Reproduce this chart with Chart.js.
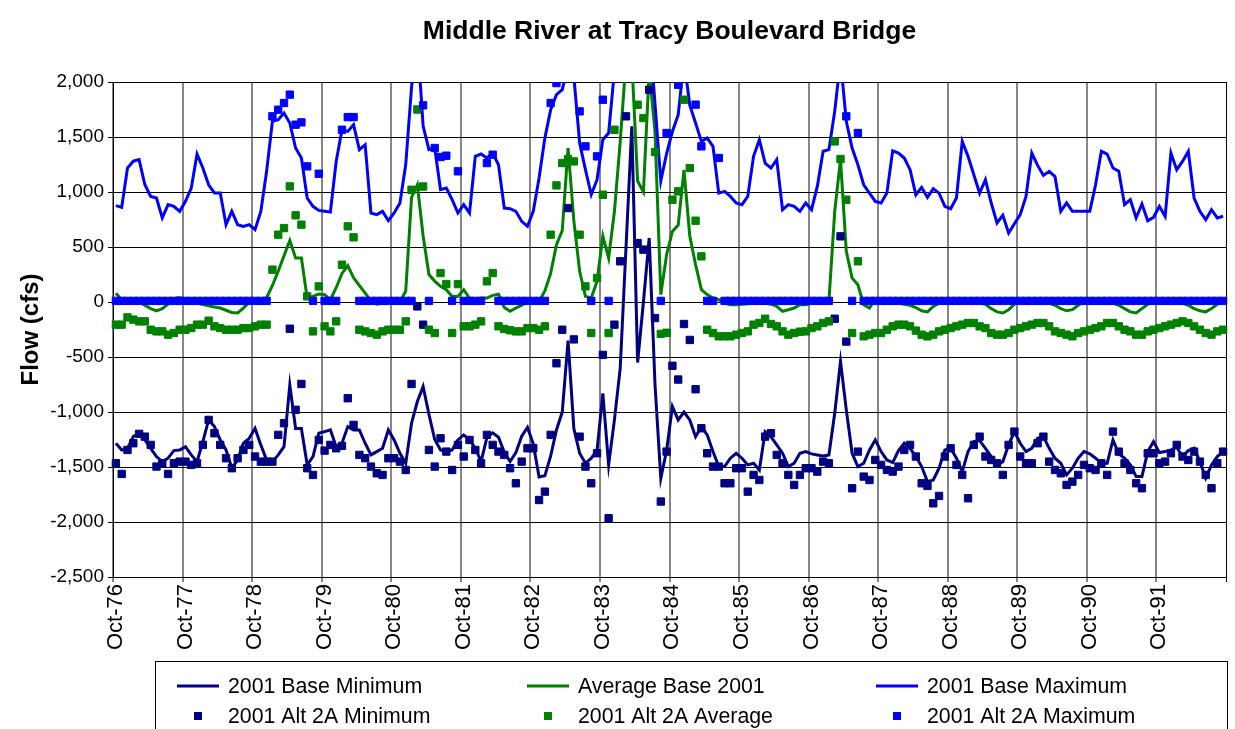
<!DOCTYPE html>
<html><head><meta charset="utf-8">
<script src="https://cdn.jsdelivr.net/npm/chart.js@4.4.1/dist/chart.umd.min.js"></script>
<style>html,body{margin:0;padding:0;background:#fff;overflow:hidden}canvas{display:block}</style>
</head><body>
<canvas id="c" width="1235" height="729"></canvas>
<script>
const TITLE = 'Middle River at Tracy Boulevard Bridge';
const Y_TITLE = 'Flow (cfs)';
const MONTHS = ['Oct','Nov','Dec','Jan','Feb','Mar','Apr','May','Jun','Jul','Aug','Sep'];
const WATER_YEARS = [76,77,78,79,80,81,82,83,84,85,86,87,88,89,90,91];
const TICK_LABELS = ['Oct-76','Oct-77','Oct-78','Oct-79','Oct-80','Oct-81','Oct-82','Oct-83','Oct-84','Oct-85','Oct-86','Oct-87','Oct-88','Oct-89','Oct-90','Oct-91'];
const Y_MIN = -2500, Y_MAX = 2000, Y_STEP = 500;

const BASE_MIN = [
-1284,-1345,-1330,-1224,-1193,-1254,-1330,-1405,-1451,-1420,-1351,-1345,
-1315,-1390,-1451,-1269,-1072,-1133,-1254,-1345,-1511,-1436,-1284,-1239,
-1148,-1299,-1436,-1451,-1390,-1315,-754,-1150,-1150,-1480,-1405,-1193,
-1178,-1163,-1315,-1284,-1133,-1163,-1163,-1284,-1390,-1360,-1330,-1163,
-1254,-1375,-1466,-1102,-905,-769,-1020,-1250,-1345,-1360,-1345,-1254,
-1208,-1254,-1330,-1451,-1230,-1190,-1230,-1366,-1450,-1370,-1220,-1140,
-1290,-1590,-1580,-1400,-1163,-1000,-350,-1150,-1375,-1466,-1420,-1350,
-830,-1481,-1072,-602,500,1597,-550,0,582,-750,-1602,-1350,
-951,-1072,-1000,-1072,-1224,-1133,-1208,-1360,-1496,-1496,-1420,-1375,
-1420,-1481,-1466,-1527,-1178,-1224,-1299,-1375,-1496,-1466,-1375,-1360,
-1381,-1390,-1400,-1390,-1012,-542,-981,-1375,-1496,-1466,-1345,-1254,
-1360,-1436,-1460,-1351,-1284,-1330,-1405,-1496,-1633,-1618,-1511,-1345,
-1330,-1420,-1542,-1360,-1269,-1260,-1330,-1405,-1481,-1451,-1299,-1178,
-1284,-1360,-1330,-1239,-1224,-1330,-1420,-1466,-1572,-1511,-1420,-1360,
-1381,-1420,-1466,-1466,-1254,-1381,-1420,-1481,-1587,-1587,-1360,-1269,
-1369,-1360,-1345,-1321,-1405,-1351,-1330,-1451,-1602,-1481,-1405,-1360];

const AVG_BASE = [
80,20,0,0,0,-30,-60,-80,-60,-20,30,40,
20,6,-10,-24,-35,-45,-55,-75,-95,-100,-55,0,
5,6,40,150,280,420,560,400,400,36,51,73,
67,21,130,260,330,220,150,80,10,-20,-10,20,
0,0,100,950,1066,600,250,190,142,112,51,51,
112,36,20,36,36,60,70,-50,-85,-55,-30,5,
5,5,100,260,520,650,1400,740,279,51,36,188,
600,400,824,1460,2200,2200,1100,1000,2100,1550,67,430,
642,700,1200,600,339,112,67,36,21,-9,-24,-24,
-20,-15,-10,-10,-10,-20,-40,-85,-70,-55,-24,-24,
-10,-10,-10,6,824,1294,460,218,157,-24,-55,30,
0,-10,-10,-10,-20,-30,-50,-80,-90,-40,-10,0,
0,0,0,0,0,-10,-20,-60,-90,-100,-70,-20,
0,0,0,0,0,-10,-30,-60,-80,-70,-30,0,
0,0,0,0,-10,-30,-60,-90,-100,-60,-20,0,
0,0,0,0,-10,-30,-60,-80,-90,-60,-20,0];

const BASE_MAX = [
876,860,1218,1280,1294,1066,960,945,764,885,870,824,
915,1036,1345,1218,1066,990,990,703,824,703,688,703,
657,824,1188,1642,1657,1718,1627,1400,1309,945,870,833,
825,818,1278,1566,1551,1612,1385,1430,809,794,824,739,
809,900,1250,1950,2400,1600,1385,1400,1021,1036,930,809,
885,809,1324,1345,1309,1354,1248,854,848,824,733,688,
824,1127,1490,1748,1885,1930,2150,2050,1445,1203,975,1112,
1475,1536,2100,2500,2800,2300,2100,2200,2500,1800,1100,1350,
1550,1700,2200,1790,1627,1460,1490,1415,990,1006,960,900,
885,960,1324,1475,1263,1218,1294,839,885,870,824,900,
839,1051,1370,1385,1733,2200,1642,1400,1248,1066,990,915,
900,990,1375,1354,1309,1203,975,1042,951,1030,990,870,
848,945,1460,1324,1157,990,1112,900,718,788,627,712,
794,960,1354,1242,1151,1188,1140,824,900,824,824,824,
824,1066,1370,1345,1218,1188,885,930,764,891,739,770,
870,779,1354,1203,1278,1370,945,824,748,839,764,779];

const ALT_MIN = [
-1466,-1563,-1345,-1284,-1199,-1224,-1299,-1496,-1466,-1563,-1466,-1451,
-1451,-1481,-1466,-1299,-1072,-1193,-1299,-1420,-1511,-1420,-1345,-1299,
-1405,-1451,-1451,-1451,-1208,-1102,-243,-980,-745,-1511,-1572,-1254,
-1351,-1299,-1330,-1308,-875,-1117,-1390,-1420,-1496,-1557,-1572,-1420,
-1420,-1451,-1527,-745,-40,-206,-1345,-1496,-1239,-1360,-1527,-1299,
-1405,-1254,-1345,-1466,-1208,-1299,-1360,-1390,-1511,-1648,-1451,-1330,
-1330,-1800,-1724,-1208,-557,-252,854,-340,-1224,-1496,-1648,-1375,
-481,-1966,-206,370,1688,2100,536,476,1930,-146,-1814,-1360,
-580,-705,-200,-345,-793,-1148,-1375,-1496,-1496,-1648,-1648,-1511,
-1511,-1724,-1572,-1618,-1224,-1193,-1390,-1466,-1572,-1663,-1572,-1511,
-1511,-1542,-1451,-1466,-152,597,-360,-1693,-1360,-1587,-1618,-1436,
-1481,-1527,-1542,-1496,-1345,-1299,-1405,-1648,-1672,-1830,-1763,-1405,
-1330,-1481,-1572,-1784,-1299,-1224,-1405,-1436,-1466,-1572,-1299,-1178,
-1405,-1466,-1466,-1284,-1224,-1451,-1527,-1557,-1663,-1633,-1572,-1481,
-1511,-1527,-1466,-1572,-1178,-1360,-1466,-1527,-1648,-1693,-1375,-1375,
-1466,-1451,-1375,-1299,-1405,-1436,-1360,-1451,-1572,-1693,-1466,-1360];

const ALT_AVG = [
-206,-206,-140,-160,-176,-176,-252,-267,-267,-297,-282,-252,
-252,-237,-206,-206,-170,-221,-237,-252,-252,-252,-237,-237,
-221,-206,-206,294,612,672,1051,788,703,51,-267,142,
-221,-267,-176,339,688,588,-252,-267,-282,-297,-267,-252,
-252,-252,-176,1020,1750,1050,-252,-282,263,163,-282,163,
-221,-221,-206,-176,188,263,-221,-245,-257,-267,-267,-237,
-237,-252,-221,612,1060,1263,1300,1278,612,142,-282,218,
975,-282,1566,2200,2300,2400,1793,1672,2300,1363,-290,-280,
930,1006,1839,1218,739,415,-252,-282,-312,-312,-312,-297,
-282,-267,-206,-191,-152,-200,-221,-267,-297,-282,-270,-267,
-237,-221,-191,-176,1460,1300,930,-282,370,-312,-297,-282,
-282,-252,-221,-206,-206,-221,-260,-297,-312,-297,-267,-252,
-237,-221,-206,-191,-191,-221,-237,-282,-297,-297,-282,-252,
-237,-221,-206,-191,-191,-221,-267,-282,-297,-312,-282,-267,
-252,-237,-221,-191,-191,-221,-252,-267,-297,-297,-267,-252,
-237,-221,-206,-191,-176,-191,-221,-252,-282,-297,-267,-252];

const ALT_MAX = [
10,10,10,10,10,10,10,10,10,10,10,10,
10,10,10,10,10,10,10,10,10,10,10,10,
10,10,10,1688,1748,1809,1885,1612,1633,1233,10,1166,
10,10,10,1566,1681,1681,10,10,10,10,10,10,
10,10,10,10,2300,1788,10,1400,1318,1330,10,1188,
10,10,10,10,1263,1339,10,10,10,10,10,10,
10,10,10,1809,1990,2200,2200,2200,1733,1415,10,1324,
1839,10,2200,2400,2500,2500,2300,2200,2400,2100,10,1536,
2100,1975,2300,2100,1794,1415,10,10,1309,10,10,10,
10,10,10,10,10,10,10,10,10,10,10,10,
10,10,10,10,2200,2300,1688,10,1536,10,10,10,
10,10,10,10,10,10,10,10,10,10,10,10,
10,10,10,10,10,10,10,10,10,10,10,10,
10,10,10,10,10,10,10,10,10,10,10,10,
10,10,10,10,10,10,10,10,10,10,10,10,
10,10,10,10,10,10,10,10,10,10,10,10];

// month categories Oct-76 ... Sep-92
const CATEGORIES = [];
WATER_YEARS.forEach(wy => {
  MONTHS.forEach((m, k) => {
    const yy = (k < 3 ? wy : wy + 1) % 100;
    CATEGORIES.push(m + '-' + String(yy).padStart(2, '0'));
  });
});

const FONT = '"Liberation Sans", Arial, Helvetica, sans-serif';
const NAVY = '#000080', GREEN = '#008000', BLUE = '#0000FF';

function lineDs(label, data, color, order) {
  return { label, data, borderColor: color, backgroundColor: color, borderWidth: 3,
    pointRadius: 0, pointHoverRadius: 0, tension: 0, order, clip: 0 };
}
function pointDs(label, data, color, order) {
  return { label, data, showLine: false, borderColor: color, backgroundColor: color,
    pointStyle: 'rect', pointRadius: 5.2, pointBorderWidth: 1, pointBackgroundColor: color,
    pointBorderColor: color, order, borderWidth: 0 };
}

const boxLegend = {
  id: 'boxLegend',
  afterDraw(chart) {
    const ctx = chart.ctx;
    ctx.save();
    const L = 155.5, T = 661.5, R = 1227.5, B = 760;
    ctx.fillStyle = '#fff';
    ctx.fillRect(L, T, R - L, B - T);
    ctx.strokeStyle = '#000';
    ctx.lineWidth = 1;
    ctx.strokeRect(L, T, R - L, B - T);
    const colX = [177, 527, 876];
    const rowY = [686, 716];
    ctx.font = '21.3px ' + FONT;
    ctx.textBaseline = 'middle';
    ctx.textAlign = 'left';
    chart.data.datasets.forEach((ds, i) => {
      const x = colX[i % 3], y = rowY[Math.floor(i / 3)];
      if (ds.showLine === false) {
        ctx.fillStyle = ds.pointBackgroundColor;
        ctx.fillRect(x + 17, y - 4, 8, 8);
      } else {
        ctx.strokeStyle = ds.borderColor;
        ctx.lineWidth = 3;
        ctx.beginPath();
        ctx.moveTo(x, y);
        ctx.lineTo(x + 42, y);
        ctx.stroke();
      }
      ctx.fillStyle = '#000';
      ctx.fillText(ds.label, x + 51, y + 1);
    });
    ctx.restore();
  }
};

const gridColor = c => (c.index === undefined) ? '#000' : (c.index % 12 === 0 ? '#868686' : 'rgba(0,0,0,0)');
const gridWidth = c => (c.index === undefined) ? 1 : 2;

new Chart(document.getElementById('c'), {
  type: 'line',
  data: {
    labels: CATEGORIES,
    datasets: [
      lineDs('2001 Base Minimum', BASE_MIN, NAVY, 5),
      lineDs('Average Base 2001', AVG_BASE, GREEN, 4),
      lineDs('2001 Base Maximum', BASE_MAX, BLUE, 3),
      pointDs('2001 Alt 2A Minimum', ALT_MIN, NAVY, 2),
      pointDs('2001 Alt 2A Average', ALT_AVG, GREEN, 1),
      pointDs('2001 Alt 2A Maximum', ALT_MAX, BLUE, 0)
    ]
  },
  options: {
    responsive: false,
    animation: false,
    devicePixelRatio: 1,
    events: [],
    layout: { padding: { left: 0, right: 9, top: 0, bottom: 72 } },
    plugins: {
      legend: { display: false },
      tooltip: { enabled: false },
      title: {
        display: true, text: TITLE, fullSize: false, color: '#000',
        font: { family: FONT, size: 26.5, weight: 'bold', lineHeight: 1.2 },
        padding: { top: 16.1, bottom: 34.1 }
      }
    },
    scales: {
      x: {
        type: 'category',
        offset: true,
        grid: { offset: true, color: gridColor, lineWidth: gridWidth, tickColor: gridColor, tickLength: 5, drawTicks: true },
        border: { display: true, color: '#000', width: 1 },
        ticks: {
          autoSkip: false, maxRotation: 90, minRotation: 90, padding: 2, color: '#000',
          font: { family: FONT, size: 22 },
          callback: (v, i) => (i % 12 === 0 ? TICK_LABELS[i / 12] : '')
        },
        afterFit: s => { s.height = 80; s.paddingLeft = 0; s.paddingRight = 0; }
      },
      y: {
        min: Y_MIN, max: Y_MAX,
        grid: { color: '#000', lineWidth: 1, tickLength: 5, tickColor: '#000' },
        border: { display: true, color: '#000', width: 1 },
        ticks: {
          stepSize: Y_STEP, padding: 4, color: '#000',
          font: { family: FONT, size: 19 },
          callback: v => Number(v).toLocaleString('en-US')
        },
        title: {
          display: true, text: Y_TITLE, color: '#000',
          font: { family: FONT, size: 24, weight: 'bold', lineHeight: 1.2 },
          padding: { top: 17, bottom: 0 }
        },
        afterFit: s => { s.width = 113; s.paddingTop = 0; s.paddingBottom = 0; }
      }
    }
  },
  plugins: [boxLegend]
});
</script>
</body></html>
